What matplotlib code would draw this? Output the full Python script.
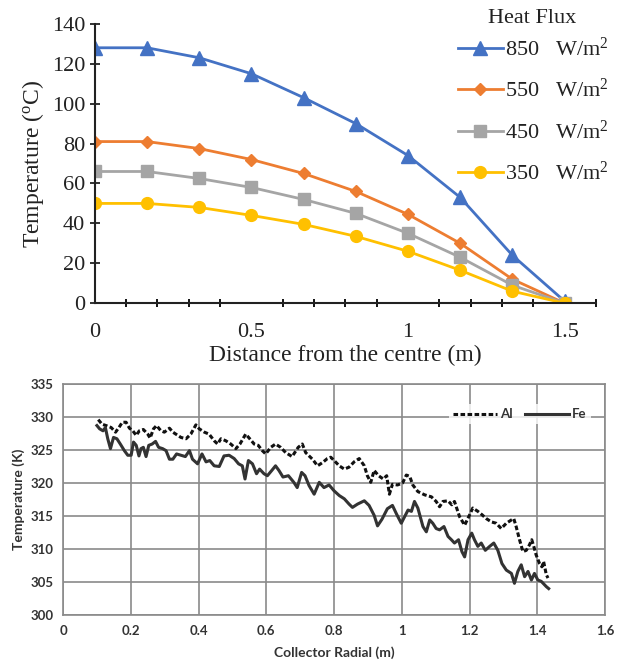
import matplotlib
matplotlib.use('Agg')
import matplotlib.pyplot as plt
import numpy as np

# top chart: temperature along radius for four heat fluxes
dist = [0, 1/6, 2/6, 0.5, 4/6, 5/6, 1.0, 7/6, 8/6, 1.5]
t850 = [128, 128, 123, 115, 103, 90, 74, 53, 24, 1]
t550 = [81, 81, 77.5, 72, 65, 56, 44.5, 30, 12, 0]
t450 = [66, 66, 62.5, 58, 52, 45, 35, 23, 9, 0]
t350 = [50, 50, 48, 44, 39.5, 33.5, 26, 16.5, 6, 0]
flux_labels = ['850   W/m$^2$', '550   W/m$^2$', '450   W/m$^2$', '350   W/m$^2$']

# bottom chart: Al / Fe radial temperatures
al_x = [0.104, 0.115, 0.127, 0.142, 0.155, 0.165, 0.175, 0.186, 0.196, 0.206,
        0.216, 0.225, 0.237, 0.25, 0.257, 0.267, 0.276, 0.289, 0.299, 0.314,
        0.324, 0.333, 0.348, 0.363, 0.377, 0.392, 0.402, 0.417, 0.431, 0.446,
        0.456, 0.466, 0.48, 0.495, 0.51, 0.522, 0.539, 0.551, 0.564, 0.576,
        0.588, 0.598, 0.613, 0.627, 0.642, 0.657, 0.676, 0.694, 0.706, 0.716,
        0.736, 0.751, 0.766, 0.78, 0.79, 0.8, 0.815, 0.83, 0.844, 0.859,
        0.874, 0.889, 0.898, 0.908, 0.918, 0.931, 0.945, 0.955, 0.963, 0.972,
        0.987, 1.002, 1.013, 1.023, 1.032, 1.047, 1.067, 1.087, 1.101, 1.111,
        1.121, 1.136, 1.147, 1.155, 1.17, 1.185, 1.2, 1.209, 1.224, 1.236,
        1.249, 1.264, 1.278, 1.293, 1.308, 1.323, 1.33, 1.337, 1.347, 1.357,
        1.367, 1.376, 1.383, 1.389, 1.396, 1.406, 1.413, 1.418, 1.426, 1.431]
al_t = [329.6, 328.9, 328.7, 328.4, 327.7, 328.4, 329.2, 329.2, 328.3, 327.9,
        327.2, 327.9, 328.1, 327.4, 326.8, 328.2, 328.7, 327.9, 327.7, 328.3,
        327.7, 327.4, 326.9, 326.7, 327.4, 328.8, 328.2, 327.7, 327.4, 326.4,
        325.9, 326.7, 326.4, 325.9, 325.2, 325.9, 327.4, 326.7, 325.9, 325.7,
        324.9, 324.4, 325.4, 325.9, 325.4, 324.6, 324.0, 325.4, 325.9, 324.6,
        323.6, 322.6, 323.1, 323.7, 323.9, 323.4, 322.6, 322.1, 322.4, 323.2,
        323.7, 322.6, 321.1, 320.1, 321.9, 321.1, 320.6, 321.1, 318.3, 319.8,
        319.7, 320.0, 321.2, 321.0, 319.7, 318.7, 318.2, 317.9, 317.2, 316.4,
        317.2, 317.3, 316.7, 317.2, 314.9, 313.6, 315.2, 316.2, 315.7, 315.2,
        314.6, 314.1, 313.9, 313.1, 313.9, 314.4, 314.6, 313.4, 311.4, 309.6,
        309.8, 310.6, 311.4, 310.4, 309.1, 307.8, 307.3, 308.1, 306.1, 305.6]

fe_x = [0.1, 0.108, 0.118, 0.125, 0.132, 0.14, 0.149, 0.159, 0.169, 0.181,
        0.191, 0.201, 0.208, 0.216, 0.224, 0.23, 0.237, 0.245, 0.253, 0.263,
        0.273, 0.282, 0.294, 0.304, 0.314, 0.324, 0.335, 0.348, 0.361, 0.373,
        0.382, 0.397, 0.41, 0.422, 0.433, 0.446, 0.461, 0.475, 0.49, 0.505,
        0.518, 0.529, 0.537, 0.547, 0.559, 0.571, 0.58, 0.593, 0.603, 0.616,
        0.627, 0.637, 0.649, 0.665, 0.681, 0.691, 0.704, 0.714, 0.726, 0.741,
        0.756, 0.77, 0.785, 0.8, 0.815, 0.83, 0.844, 0.854, 0.869, 0.889,
        0.903, 0.918, 0.928, 0.941, 0.957, 0.972, 0.984, 0.998, 1.008, 1.018,
        1.028, 1.037, 1.047, 1.062, 1.072, 1.082, 1.091, 1.101, 1.111, 1.124,
        1.136, 1.146, 1.155, 1.167, 1.177, 1.185, 1.195, 1.206, 1.214, 1.224,
        1.234, 1.246, 1.259, 1.271, 1.283, 1.295, 1.308, 1.323, 1.332, 1.342,
        1.352, 1.362, 1.372, 1.382, 1.391, 1.401, 1.411, 1.426, 1.433]
fe_t = [328.7, 328.2, 327.9, 328.4, 326.7, 325.2, 326.9, 326.7, 325.9, 324.9,
        324.2, 324.2, 326.2, 325.7, 324.1, 325.2, 325.4, 324.0, 325.7, 325.9,
        326.3, 325.4, 325.2, 324.9, 323.6, 323.6, 324.4, 324.2, 324.0, 324.9,
        323.6, 322.9, 324.4, 323.2, 323.4, 322.6, 322.5, 324.1, 324.2, 323.7,
        322.9, 322.6, 320.6, 323.4, 322.9, 321.4, 322.1, 321.4, 321.1, 321.9,
        322.6, 321.9, 320.9, 321.1, 320.1, 319.3, 321.6, 321.1, 319.6, 318.3,
        320.1, 319.3, 319.7, 318.8, 318.1, 317.6, 316.8, 316.3, 316.8, 317.3,
        316.6, 315.1, 313.5, 314.5, 316.1, 316.6, 315.3, 313.9, 314.9, 315.9,
        315.7, 317.2, 316.2, 313.4, 312.6, 314.4, 313.9, 313.1, 312.9, 313.4,
        311.9, 311.4, 310.9, 311.4, 309.6, 308.8, 311.4, 312.4, 311.4, 310.4,
        310.9, 309.8, 310.4, 310.9, 309.8, 307.8, 306.8, 306.3, 304.8, 306.6,
        307.6, 305.8, 306.6, 305.3, 306.3, 305.3, 305.1, 304.3, 304.0]

plt.rcParams['mathtext.fontset'] = 'custom'
plt.rcParams['mathtext.rm'] = 'Liberation Serif'
plt.rcParams['mathtext.it'] = 'Liberation Serif:italic'

fig = plt.figure(figsize=(6.24, 6.62), dpi=100)

# ---- top chart ----
ax1 = fig.add_axes([0.152, 0.542, 0.803, 0.422])
serif = 'Liberation Serif'
ink = '#222222'
ax1.plot(dist, t850, color='#4472C4', lw=2, marker='^', ms=10, label=flux_labels[0])
ax1.plot(dist, t550, color='#ED7D31', lw=2, marker='D', ms=6.5, label=flux_labels[1])
ax1.plot(dist, t450, color='#A5A5A5', lw=2, marker='s', ms=8, label=flux_labels[2])
ax1.plot(dist, t350, color='#FFC000', lw=2, marker='o', ms=8.5, label=flux_labels[3])
ax1.set_xlim(0, 1.6)
ax1.set_ylim(0, 140)
ax1.set_xticks([0, 0.5, 1, 1.5])
ax1.set_xticklabels(['0', '0.5', '1', '1.5'])
ax1.set_xticks(np.arange(0, 1.61, 0.1), minor=True)
ax1.set_yticks(range(0, 141, 20))
ax1.spines['top'].set_visible(False)
ax1.spines['right'].set_visible(False)
for s in ['left', 'bottom']:
    ax1.spines[s].set_linewidth(1.5)
    ax1.spines[s].set_color(ink)
ax1.tick_params(axis='both', direction='inout', length=7, width=1.3, labelsize=16, colors=ink)
ax1.tick_params(axis='x', which='minor', direction='inout', length=6, width=1.3)
ax1.tick_params(axis='x', which='major', length=0, pad=14)
for lab in ax1.get_xticklabels() + ax1.get_yticklabels():
    lab.set_fontfamily(serif)
ax1.set_xlabel('Distance from the centre (m)', fontsize=17, family=serif, color=ink, labelpad=2)
ax1.set_ylabel('Temperature ($^{\\mathrm{o}}$C)', fontsize=17, family=serif, color=ink, labelpad=4)

fig.text(0.853, 0.972, 'Heat Flux', ha='center', va='center', family=serif, fontsize=16, color=ink)
leg1 = fig.legend(loc='upper right', bbox_to_anchor=(1.0, 0.967), frameon=False,
                  prop={'family': serif, 'size': 16}, borderpad=0.2,
                  handlelength=2.0, handletextpad=0.1, labelspacing=0.82)
for t in leg1.get_texts():
    t.set_color(ink)

# ---- bottom chart ----
ax2 = fig.add_axes([0.101, 0.071, 0.869, 0.349])
sans = 'Lato'
grey_ink = '#333333'
ax2.plot(al_x, al_t, color='#111111', lw=2.2, dashes=(1.5, 0.8), label='Al')
ax2.plot(fe_x, fe_t, color=grey_ink, lw=2.2, label='Fe')
ax2.set_xlim(0, 1.6)
ax2.set_ylim(300, 335)
ax2.set_xticks(np.arange(0, 1.61, 0.2))
ax2.set_xticklabels(['0', '0.2', '0.4', '0.6', '0.8', '1', '1.2', '1.4', '1.6'])
ax2.set_yticks(range(300, 336, 5))
ax2.grid(True, color='#8a8a8a', lw=1.2)
ax2.set_axisbelow(True)
for s in ax2.spines.values():
    s.set_color('#8a8a8a')
    s.set_linewidth(1.2)
ax2.tick_params(length=0, labelsize=9.5, colors=grey_ink, pad=7)
for lab in ax2.get_xticklabels() + ax2.get_yticklabels():
    lab.set_fontfamily(sans)
    lab.set_fontweight('bold')
ax2.set_xlabel('Collector Radial (m)', fontsize=10, family=sans, fontweight='bold', color=grey_ink, labelpad=7)
ax2.set_ylabel('Temperature (K)', fontsize=10, family=sans, fontweight='bold', color=grey_ink, labelpad=4)
leg2 = ax2.legend(loc='upper right', bbox_to_anchor=(0.985, 0.94), ncol=2, frameon=True,
                  prop={'family': sans, 'weight': 'bold', 'size': 9.5},
                  handlelength=3.4, handletextpad=0.2, columnspacing=0.9,
                  borderpad=0.3, fancybox=False)
leg2.get_frame().set_facecolor('white')
leg2.get_frame().set_edgecolor('none')
for t in leg2.get_texts():
    t.set_color(grey_ink)

fig.savefig('out.png', dpi=100)
